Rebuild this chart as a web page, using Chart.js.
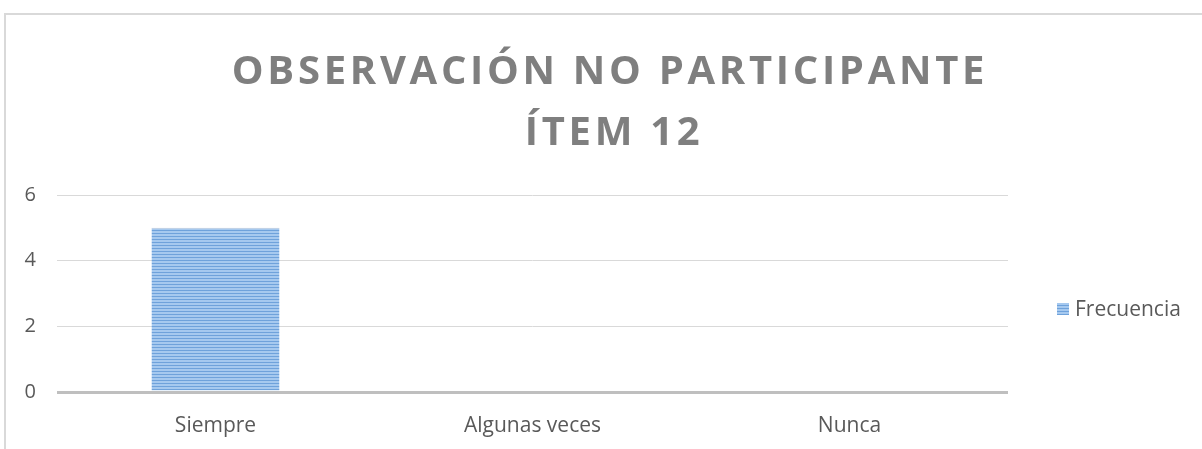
<!DOCTYPE html>
<html>
<head>
<meta charset="utf-8">
<script src="https://cdn.jsdelivr.net/npm/chart.js@4.4.1/dist/chart.umd.min.js"></script>
<style>
  html, body { margin: 0; padding: 0; background: #fff; overflow: hidden; width: 1202px; height: 449px; }
  #frame { position: absolute; left: 4px; top: 13px; width: 1400px; height: 600px; border: 2px solid #d9d9d9; box-sizing: border-box; }
  #wrap { position: absolute; left: 0; top: 0; width: 1202px; height: 449px; }
</style>
</head>
<body>
<div id="frame"></div>
<div id="wrap"><canvas id="c" width="1202" height="449"></canvas></div>
<script>
const categories = ["Siempre", "Algunas veces", "Nunca"];
const seriesName = "Frecuencia";
const frecuencia = [5, 0, 0];
const yTicks = [0, 2, 4, 6];
const titleLines = ["OBSERVACIÓN NO PARTICIPANTE", "ÍTEM 12"];

function makePattern() {
  const pc = document.createElement('canvas');
  pc.width = 4; pc.height = 3;
  const p = pc.getContext('2d');
  p.fillStyle = '#a6c9ef'; p.fillRect(0, 0, 4, 2);
  p.fillStyle = '#6fa2db'; p.fillRect(0, 2, 4, 1);
  return document.getElementById('c').getContext('2d').createPattern(pc, 'repeat');
}
const barFill = makePattern();

const FONT = "'Open Sans', sans-serif";

const titlePlugin = {
  id: 'spacedTitle',
  afterDraw(chart) {
    const ctx = chart.ctx;
    ctx.save();
    ctx.fillStyle = '#7f7f7f';
    ctx.font = "bold 40px 'Open Sans', sans-serif";
    ctx.textAlign = 'center';
    ctx.textBaseline = 'alphabetic';
    ctx.letterSpacing = '3.7px';
    ctx.fillText(titleLines[0], 610, 84);
    ctx.fillText(titleLines[1], 614, 145);
    ctx.restore();
  }
};

const legendPlugin = {
  id: 'sideLegend',
  afterDraw(chart) {
    const ctx = chart.ctx;
    const ds = chart.data.datasets[0];
    ctx.save();
    ctx.fillStyle = barFill;
    ctx.fillRect(1057, 303, 12, 12);
    ctx.fillStyle = '#595959';
    ctx.font = "21px " + FONT;
    ctx.textBaseline = 'middle';
    ctx.textAlign = 'left';
    ctx.fillText(ds.label, 1075, 310);
    ctx.restore();
  }
};

new Chart(document.getElementById('c'), {
  type: 'bar',
  data: {
    labels: categories,
    datasets: [{
      label: seriesName,
      data: frecuencia,
      backgroundColor: barFill,
      borderColor: '#b8c8da',
      borderWidth: { top: 1, left: 0, right: 0, bottom: 0 },
      borderSkipped: false,
      categoryPercentage: 1,
      barPercentage: 0.404
    }]
  },
  options: {
    responsive: false,
    animation: false,
    devicePixelRatio: 1,
    layout: { padding: { left: 0, right: 194, top: 195, bottom: 0 } },
    plugins: {
      legend: { display: false },
      title: { display: false },
      tooltip: { enabled: false }
    },
    scales: {
      x: {
        grid: { display: false, drawTicks: false },
        border: { display: false },
        ticks: { color: '#595959', font: { family: FONT, size: 21 }, padding: 21 },
        afterFit(s) { s.height = 57; }
      },
      y: {
        min: 0, max: 6,
        afterBuildTicks(s) { s.ticks = yTicks.map(v => ({ value: v })); },
        grid: {
          drawTicks: false,
          color: (c) => c.tick && c.tick.value === 0 ? '#bfbfbf' : '#d9d9d9',
          lineWidth: (c) => c.tick && c.tick.value === 0 ? 3 : 1
        },
        border: { display: false },
        ticks: { color: '#595959', font: { family: FONT, size: 20 }, padding: 21 },
        afterFit(s) { s.width = 57; }
      }
    }
  },
  plugins: [titlePlugin, legendPlugin]
});
</script>
</body>
</html>
